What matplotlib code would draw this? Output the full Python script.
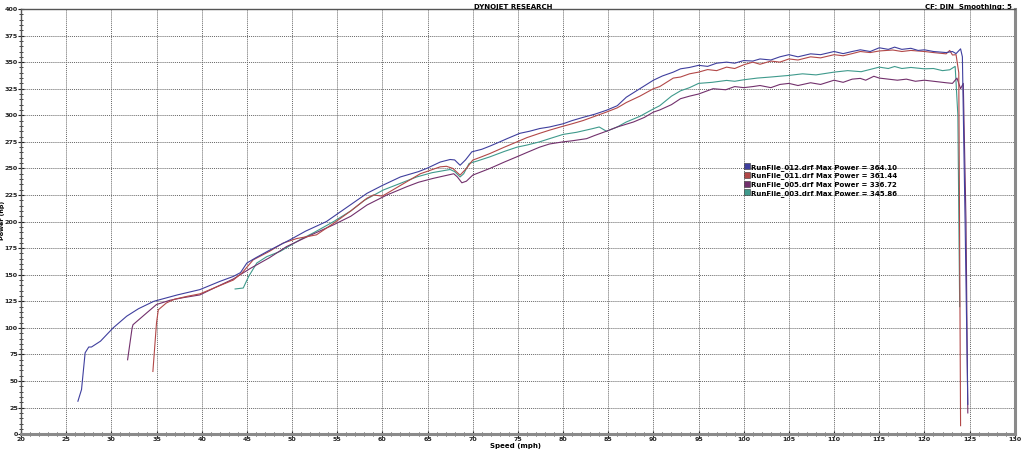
import matplotlib
matplotlib.use("Agg")
import matplotlib.pyplot as plt
from matplotlib.lines import Line2D
from matplotlib.ticker import MultipleLocator

# --- data (speed mph, power hp) ---
RUN_012_SPEED = [26.3, 26.7, 27.1, 27.5, 27.8, 28.8, 30.2, 31.7, 33.0, 34.7, 36.0, 37.3, 39.8, 42.0,
                 43.5, 44.3, 45.0, 46.0, 47.5, 49.8, 51.5, 53.8, 56.0, 58.3, 60.0, 62.0, 64.0, 64.9,
                 66.4, 67.5, 68.0, 68.6, 69.2, 69.9, 71.0, 71.9, 73.0, 73.8, 75.2, 76.3, 77.4, 78.5,
                 80.0, 81.0, 82.2, 83.5, 84.8, 86.0, 87.0, 88.5, 90.0, 91.0, 92.2, 93.0, 94.0, 95.0,
                 96.0, 97.0, 98.1, 99.0, 100.0, 101.0, 101.8, 103.0, 104.0, 105.0, 106.0, 107.4, 108.5,
                 110.0, 111.0, 112.0, 112.9, 114.0, 115.0, 116.0, 116.7, 117.5, 118.5, 119.3, 120.0,
                 121.0, 122.4, 123.1, 123.5, 124.0, 124.2, 124.5, 124.8]
RUN_012_POWER = [31, 42, 76.6, 82, 82, 87.5, 100, 111, 118, 125, 128, 131, 136, 143.7,
                 148.4, 152, 161, 166, 173, 183, 191, 200, 213, 226.6, 234, 242, 247, 250,
                 256, 258.4, 258, 253, 258, 265.6, 268, 271, 275, 278, 283, 285, 287.5, 289,
                 292, 295, 298, 301, 304.7, 309, 317, 325, 333, 337, 340.6, 343.7, 345, 347,
                 346, 349, 350, 349, 351.5, 351, 353, 352, 355, 357, 355, 357.8, 357,
                 360, 358, 360, 361.6, 360, 363.5, 362, 364.1, 362, 363, 361, 361.6,
                 360, 359, 360, 358, 362.5, 355, 200, 28]

RUN_011_SPEED = [34.6, 35.0, 35.2, 36.1, 37.0, 38.4, 39.8, 41.5, 43.5, 44.5, 45.7, 47.5, 49.0, 50.5,
                 52.7, 54.6, 56.5, 58.3, 59.0, 60.0, 62.0, 64.2, 66.4, 67.1, 67.8, 68.6, 69.3, 70.0,
                 71.0, 71.9, 73.5, 74.9, 76.0, 77.4, 78.5, 80.0, 81.0, 82.2, 83.5, 84.8, 86.0, 87.0,
                 88.5, 90.0, 90.7, 92.2, 93.0, 94.0, 95.0, 96.0, 97.0, 98.1, 99.0, 100.0, 101.0,
                 101.8, 103.0, 104.0, 105.0, 106.0, 107.4, 108.5, 110.0, 111.0, 112.0, 112.9, 114.0,
                 115.0, 116.5, 117.5, 118.5, 120.0, 121.0, 122.4, 122.8, 123.1, 123.5, 123.8, 124.0]
RUN_011_POWER = [59, 104.7, 117, 123.5, 127, 129.7, 132, 138, 145, 152, 164, 172, 179.7, 184,
                 187.5, 198.4, 210, 222, 225, 224, 234, 245, 251.5, 252, 250, 243.7, 250, 257.8,
                 261, 264, 270, 275, 279, 283, 286, 289.7, 292, 295, 299, 303, 307, 312,
                 318, 325, 327, 335, 336, 339, 340.6, 343, 342, 345.3, 344, 347.5, 350,
                 348, 351, 350, 353, 352, 355, 354, 357, 356, 358, 360, 359,
                 360.5, 361.4, 360, 361, 360, 359, 357.8, 361, 356.7, 357, 340, 8]

RUN_005_SPEED = [31.8, 32.3, 32.4, 33.9, 35.0, 36.5, 38.0, 39.8, 41.5, 43.5, 45.4, 47.5, 49.4, 52.0,
                 54.6, 56.5, 58.3, 60.5, 62.7, 64.0, 65.6, 67.9, 68.3, 68.8, 69.3, 70.0, 71.0, 71.9,
                 73.5, 74.9, 76.0, 77.4, 78.5, 80.0, 81.0, 82.6, 83.5, 84.8, 86.0, 87.8, 89.0, 90.0,
                 90.7, 92.0, 93.0, 94.0, 95.0, 96.6, 98.0, 99.0, 100.0, 101.0, 101.8, 103.0, 104.0,
                 105.0, 106.0, 107.4, 108.5, 110.0, 111.0, 112.0, 112.9, 113.5, 114.4, 115.0, 116.0,
                 117.0, 118.0, 119.0, 120.0, 121.0, 122.4, 123.1, 123.6, 124.0, 124.3, 124.6, 124.8]
RUN_005_POWER = [70, 100, 103, 114, 122, 126, 128.5, 131, 138, 146, 156, 166, 176.5, 187,
                 197, 205, 215.6, 225, 232.8, 237, 240.6, 245, 242, 236.5, 238, 243.7, 247, 250,
                 256, 261, 265, 270, 273, 275, 276, 278, 281, 285, 289, 293.7, 298, 303,
                 305, 310, 315.6, 318, 320, 325, 324, 327, 326, 327, 328, 326, 329,
                 330, 328, 330.6, 329, 333, 331, 334, 334.7, 333, 336.7, 335, 334,
                 333, 334, 332, 333, 332, 330.6, 330, 335, 325, 330, 200, 20]

RUN_003_SPEED = [43.7, 44.6, 45.2, 46.1, 47.2, 48.7, 50.9, 52.5, 54.6, 56.5, 58.0, 60.1, 62.0, 63.8,
                 65.5, 67.5, 68.0, 68.6, 69.0, 69.6, 70.5, 71.9, 73.5, 74.9, 76.0, 77.4, 78.5, 80.0,
                 81.5, 83.3, 84.0, 84.8, 86.0, 87.0, 88.5, 90.0, 90.7, 92.0, 93.0, 94.0, 95.0, 96.5,
                 98.1, 99.0, 100.0, 101.5, 103.0, 105.0, 106.5, 108.0, 110.0, 111.5, 113.0, 115.0,
                 116.0, 116.7, 117.5, 118.5, 120.0, 121.0, 122.0, 122.8, 123.4, 123.7, 123.9]
RUN_003_POWER = [136.6, 137.5, 148.4, 161, 167, 172, 183, 190, 200, 210, 220, 229.7, 236, 242,
                 246, 249, 247, 242, 245, 254.7, 257, 260.9, 266, 270, 272, 275, 278, 282,
                 284, 287.5, 289, 285, 289, 293.7, 299, 306, 309, 318, 323, 326, 330, 331,
                 332.8, 332, 333.4, 335, 336, 337.5, 339, 338, 340.6, 342, 341, 345.3,
                 344, 345.9, 344, 345, 343.7, 344, 342, 342.8, 346, 300, 120]

RUNS = [("RunFile_012.drf", 364.10, RUN_012_SPEED, RUN_012_POWER, "#3f3f9e"),
        ("RunFile_011.drf", 361.44, RUN_011_SPEED, RUN_011_POWER, "#b24848"),
        ("RunFile_005.drf", 336.72, RUN_005_SPEED, RUN_005_POWER, "#72306c"),
        ("RunFile_003.drf", 345.86, RUN_003_SPEED, RUN_003_POWER, "#3f9a8c")]

fig = plt.figure(figsize=(10.24, 4.49), dpi=100)
ax = fig.add_axes([0.0205, 0.033, 0.9705, 0.947])

# draw in reverse so the blue run ends on top
for name, pk, sp, pw, c in reversed(RUNS):
    ax.plot(sp, pw, color=c, lw=0.8)

ax.set_xlim(20, 130)
ax.set_ylim(0, 400)
ax.xaxis.set_major_locator(MultipleLocator(5))
ax.xaxis.set_minor_locator(MultipleLocator(1))
ax.yaxis.set_major_locator(MultipleLocator(25))
ax.yaxis.set_minor_locator(MultipleLocator(5))
ax.grid(True, which="major", color="#666666", lw=0.7, ls=(0, (1, 1)))
ax.tick_params(which="both", direction="inout", colors="#222222", labelsize=4.6)
ax.tick_params(axis="x", pad=0)
ax.tick_params(axis="y", pad=0.2)
ax.tick_params(which="major", length=4, width=0.8)
ax.tick_params(which="minor", length=3, width=0.6)
for lab in ax.get_xticklabels() + ax.get_yticklabels():
    lab.set_fontweight("bold")

for side in ("top", "left"):
    ax.spines[side].set_color("#555555")
    ax.spines[side].set_linewidth(1.0)
for side in ("bottom", "right"):
    ax.spines[side].set_color("#8a8a8a")
    ax.spines[side].set_linewidth(2.2)

# axis titles placed as figure text so they stay inside the tight margins
fig.text(0.503, 0.0, "Speed (mph)", ha="center", va="bottom", fontsize=5, fontweight="bold")
fig.text(0.0, 0.51, "Power (hp)", ha="left", va="center", rotation=90,
         fontsize=4.6, fontweight="bold")

fig.text(0.501, 0.992, "DYNOJET RESEARCH", ha="center", va="top", fontsize=5, fontweight="bold")
fig.text(0.988, 0.992, "CF: DIN  Smoothing: 5", ha="right", va="top", fontsize=5, fontweight="bold")

handles = [Line2D([], [], ls="none", marker="s", ms=4, mfc=c, mec="#333333", mew=0.4)
           for _, _, _, _, c in RUNS]
labels = [f"{name} Max Power = {pk:.2f}" for name, pk, _, _, _ in RUNS]
leg = ax.legend(handles, labels, loc="upper left", bbox_to_anchor=(0.728, 0.636), frameon=False,
                fontsize=5, borderpad=0, labelspacing=0.25, handletextpad=0.1, handlelength=0.8,
                borderaxespad=0)
for t in leg.get_texts():
    t.set_fontweight("bold")

fig.savefig("out.png", dpi=100)
